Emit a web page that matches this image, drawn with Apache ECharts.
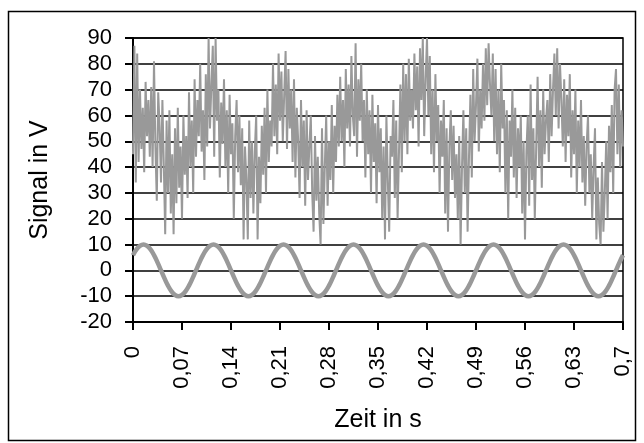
<!DOCTYPE html>
<html>
<head>
<meta charset="utf-8">
<script src="https://cdn.jsdelivr.net/npm/echarts@6/dist/echarts.min.js"></script>
<style>
  html, body { margin: 0; padding: 0; background: #fff; }
  #main { width: 644px; height: 443px; }
</style>
</head>
<body>
<div id="main"></div>
<script>
// Messsignal (Rauschen), Abtastung alle 0,002 s
var noiseStep = 0.002;
var noiseValues = [
  45, 87, 34, 84, 42, 70, 47, 63, 38, 73, 52, 66, 44, 71, 40, 81, 48, 27, 69, 56,
  34, 66, 41, 14, 58, 30, 62, 22, 45, 14, 55, 26, 63, 32, 48, 20, 60, 37, 52, 28,
  69, 40, 58, 30, 74, 44, 66, 52, 80, 46,
  62, 35, 76, 48, 90, 55, 72, 87, 44, 90, 58, 70, 36, 65, 49, 74, 40, 62, 30, 68,
  45, 57, 20, 52, 66, 38, 60, 33, 55, 12, 48, 35, 12, 58, 28, 50, 22, 46, 60, 12,
  44, 26, 56, 37, 63, 30, 70, 42, 58, 48,
  80, 52, 72, 45, 84, 58, 77, 50, 68, 85, 47, 78, 55, 70, 42, 74, 36, 63, 50, 28,
  66, 40, 58, 25, 62, 35, 48, 60, 30, 15, 52, 27, 44, 22, 10, 55, 18, 40, 60, 25,
  50, 35, 64, 30, 56, 42, 68, 48, 75, 50,
  66, 40, 78, 55, 72, 48, 83, 60, 52, 88, 44, 74, 58, 80, 50, 66, 36, 70, 45, 62,
  30, 68, 42, 57, 26, 64, 38, 55, 20, 48, 12, 60, 35, 15, 52, 44, 66, 28, 58, 20,
  46, 72, 38, 80, 50, 76, 45, 82, 58, 70,
  55, 84, 62, 79, 48, 86, 66, 90, 52, 74, 90, 60, 83, 45, 70, 38, 76, 50, 64, 30,
  58, 44, 66, 22, 55, 15, 48, 62, 35, 56, 28, 45, 20, 52, 10, 40, 62, 30, 55, 15,
  44, 68, 36, 78, 50, 64, 82, 46, 70, 55,
  80, 58, 86, 64, 88, 72, 60, 84, 50, 78, 45, 70, 38, 80, 55, 66, 30, 62, 20, 58,
  44, 70, 36, 63, 28, 55, 40, 60, 22, 50, 12, 46, 60, 25, 72, 35, 55, 20, 48, 75,
  40, 62, 32, 70, 45, 58, 66, 42, 76, 52,
  70, 84, 60, 86, 55, 80, 66, 48, 74, 42, 68, 52, 76, 36, 62, 45, 70, 30, 58, 40,
  66, 34, 52, 25, 48, 60, 30, 45, 20, 40, 55, 12, 36, 18, 10, 42, 15, 30, 50, 20,
  56, 38, 64, 30, 70, 78, 45, 72, 40, 62, 48
];

// Sinussignal, Abtastung alle 0,005 s
var sineStep = 0.005;
var sineValues = [
  5.9, 8.1, 9.5, 10, 9.5, 8.1, 5.9, 3.1, 0, -3.1, -5.9, -8.1, -9.5, -10, -9.5, -8.1, -5.9, -3.1, 0, 3.1,
  5.9, 8.1, 9.5, 10, 9.5, 8.1, 5.9, 3.1, 0, -3.1, -5.9, -8.1, -9.5, -10, -9.5, -8.1, -5.9, -3.1, 0, 3.1,
  5.9, 8.1, 9.5, 10, 9.5, 8.1, 5.9, 3.1, 0, -3.1, -5.9, -8.1, -9.5, -10, -9.5, -8.1, -5.9, -3.1, 0, 3.1,
  5.9, 8.1, 9.5, 10, 9.5, 8.1, 5.9, 3.1, 0, -3.1, -5.9, -8.1, -9.5, -10, -9.5, -8.1, -5.9, -3.1, 0, 3.1,
  5.9, 8.1, 9.5, 10, 9.5, 8.1, 5.9, 3.1, 0, -3.1, -5.9, -8.1, -9.5, -10, -9.5, -8.1, -5.9, -3.1, 0, 3.1,
  5.9, 8.1, 9.5, 10, 9.5, 8.1, 5.9, 3.1, 0, -3.1, -5.9, -8.1, -9.5, -10, -9.5, -8.1, -5.9, -3.1, 0, 3.1,
  5.9, 8.1, 9.5, 10, 9.5, 8.1, 5.9, 3.1, 0, -3.1, -5.9, -8.1, -9.5, -10, -9.5, -8.1, -5.9, -3.1, 0, 3.1,
  5.9
];

var toPairs = function (values, step) {
  return values.map(function (v, i) { return [+(i * step).toFixed(3), v]; });
};

var fontFam = '"Liberation Sans", Arial, sans-serif';

var myChart = echarts.init(document.getElementById('main'));

var option = {
  animation: false,
  backgroundColor: '#fff',
  graphic: [{
    type: 'rect',
    shape: { x: 8.5, y: 11.5, width: 627, height: 429 },
    style: { fill: 'none', stroke: '#000', lineWidth: 1.5 },
    silent: true
  }],
  grid: {
    left: 133,
    right: 21,
    top: 38,
    bottom: 121,
    show: true,
    borderColor: '#000',
    borderWidth: 1.5
  },
  xAxis: {
    type: 'value',
    min: 0,
    max: 0.7,
    interval: 0.07,
    name: 'Zeit in s',
    nameLocation: 'middle',
    nameGap: 86,
    nameTextStyle: { fontFamily: fontFam, fontSize: 25, color: '#000' },
    axisLine: { onZero: false, lineStyle: { color: '#000', width: 2 } },
    axisTick: { inside: false, length: 8, lineStyle: { color: '#000', width: 2 } },
    axisLabel: {
      rotate: 90,
      margin: 24,
      fontFamily: fontFam,
      fontSize: 22,
      color: '#000',
      formatter: function (v) { return String(+v.toFixed(2)).replace('.', ','); }
    },
    splitLine: { show: false }
  },
  yAxis: {
    type: 'value',
    min: -20,
    max: 90,
    interval: 10,
    name: 'Signal in V',
    nameLocation: 'middle',
    nameGap: 80,
    nameTextStyle: { fontFamily: fontFam, fontSize: 25, color: '#000' },
    axisLine: { show: true, lineStyle: { color: '#000', width: 2 } },
    axisTick: { show: true, inside: false, length: 8, lineStyle: { color: '#000', width: 2 } },
    axisLabel: { margin: 21, fontFamily: fontFam, fontSize: 22, color: '#000' },
    splitLine: { show: true, lineStyle: { color: '#000', width: 1.5 } }
  },
  series: [
    {
      name: 'Rauschen',
      type: 'line',
      data: toPairs(noiseValues, noiseStep),
      showSymbol: false,
      lineStyle: { color: '#999999', width: 2 },
      z: 3
    },
    {
      name: 'Sinus',
      type: 'line',
      smooth: true,
      data: toPairs(sineValues, sineStep),
      showSymbol: false,
      lineStyle: { color: '#999999', width: 4.5 },
      z: 3
    }
  ]
};

myChart.setOption(option);
</script>
</body>
</html>
